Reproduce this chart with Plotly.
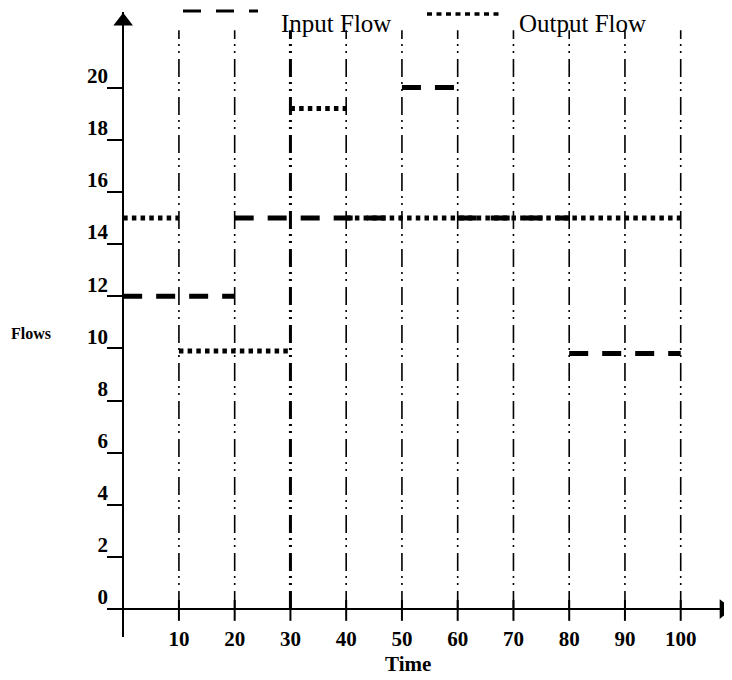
import plotly.graph_objects as go

# ---- data ----
time_ticks = [10, 20, 30, 40, 50, 60, 70, 80, 90, 100]
flow_ticks = [0, 2, 4, 6, 8, 10, 12, 14, 16, 18, 20]

input_start = [0, 20, 50, 60, 80]
input_end = [20, 50, 60, 80, 100]
input_value = [12, 15, 20, 15, 9.8]

output_start = [0, 10, 30, 40]
output_end = [10, 30, 40, 100]
output_value = [15, 9.9, 19.2, 15]

# ---- layout constants ----
X_RANGE = [-2.9, 109.2]
Y_RANGE = [-1.07, 22.9]
GRID_TOP = 22.2
THICK_GRID_AT = 30
SERIF = "Liberation Serif, Times New Roman, serif"
PAGE_OFFSET = 8  # default body margin of the html page


def segments(starts, ends, values):
    xs, ys = [], []
    for s, e, v in zip(starts, ends, values):
        xs += [s, e, None]
        ys += [v, v, None]
    return xs, ys


fig = go.Figure()

# vertical dash-dot-dot lines at every time tick
for t in time_ticks:
    fig.add_trace(go.Scatter(
        x=[t, t], y=[0, GRID_TOP], mode="lines", showlegend=False, hoverinfo="skip",
        line=dict(color="black", width=3 if t == THICK_GRID_AT else 1.6,
                  dash="18px,6px,2px,5px,2px,5px"),
    ))

# short solid tick marks crossing the time axis
tx, ty = [], []
for t in time_ticks:
    tx += [t, t, None]
    ty += [-0.45, 0.35, None]
fig.add_trace(go.Scatter(x=tx, y=ty, mode="lines", showlegend=False, hoverinfo="skip",
                         line=dict(color="black", width=2)))

ox, oy = segments(output_start, output_end, output_value)
fig.add_trace(go.Scatter(x=ox, y=oy, mode="lines", name="Output Flow", showlegend=False,
                         line=dict(color="black", width=5, dash="4.5px,4.2px")))

ix, iy = segments(input_start, input_end, input_value)
fig.add_trace(go.Scatter(x=ix, y=iy, mode="lines", name="Input Flow", showlegend=False,
                         line=dict(color="black", width=5, dash="19px,14px")))

# arrow heads on the axes
fig.add_trace(go.Scatter(x=[0], y=[Y_RANGE[1] - 0.35], mode="markers", showlegend=False,
                         hoverinfo="skip", cliponaxis=False,
                         marker=dict(symbol="triangle-up", size=17, color="black")))
fig.add_trace(go.Scatter(x=[X_RANGE[1] - 1.45], y=[0], mode="markers", showlegend=False,
                         hoverinfo="skip", cliponaxis=False,
                         marker=dict(symbol="triangle-right", size=17, color="black")))

fig.update_xaxes(
    range=X_RANGE, showgrid=False, showline=False, automargin=False,
    zeroline=True, zerolinecolor="black", zerolinewidth=2,
    tickmode="array", tickvals=time_ticks, ticktext=[str(t) for t in time_ticks],
    ticks="", ticklabelstandoff=-13,
    tickfont=dict(family=SERIF, size=21, color="black", weight="bold"),
)
fig.update_yaxes(
    range=Y_RANGE, showgrid=False, showline=False, automargin=False,
    zeroline=True, zerolinecolor="black", zerolinewidth=2,
    tickmode="array", tickvals=flow_ticks, ticktext=[str(v) for v in flow_ticks],
    ticks="inside", ticklen=16, tickwidth=2, tickcolor="black",
    ticklabelstandoff=-2, ticklabelshift=-12,
    tickfont=dict(family=SERIF, size=21, color="black", weight="bold"),
)

W, H = 732 - PAGE_OFFSET, 680 - PAGE_OFFSET
L, R, T, B = 107 - PAGE_OFFSET, 0, 12 - PAGE_OFFSET, 43
PW, PH = W - L - R, H - T - B


def px(xpage):
    return (xpage - PAGE_OFFSET - L) / PW


def py(ypage):
    return (H - B - (ypage - PAGE_OFFSET)) / PH


shapes = [
    dict(type="line", xref="paper", yref="paper", x0=px(183), x1=px(258), y0=py(11), y1=py(11),
         line=dict(color="black", width=3, dash="18px,15px")),
    dict(type="line", xref="paper", yref="paper", x0=px(427), x1=px(500), y0=py(14), y1=py(14),
         line=dict(color="black", width=3.5, dash="5px,4.5px")),
]

annotations = [
    dict(text="Input Flow", xref="paper", yref="paper", x=px(279), y=py(24),
         xanchor="left", yanchor="middle", showarrow=False,
         font=dict(family=SERIF, size=25, color="black")),
    dict(text="Output Flow", xref="paper", yref="paper", x=px(517), y=py(24),
         xanchor="left", yanchor="middle", showarrow=False,
         font=dict(family=SERIF, size=25, color="black")),
    dict(text="Flows", xref="paper", yref="paper", x=px(31), y=py(333),
         xanchor="center", yanchor="middle", showarrow=False,
         font=dict(family=SERIF, size=16, color="black", weight="bold")),
    dict(text="Time", xref="paper", yref="paper", x=px(408), y=py(664),
         xanchor="center", yanchor="middle", showarrow=False,
         font=dict(family=SERIF, size=21, color="black", weight="bold")),
]

fig.update_layout(
    width=W, height=H,
    margin=dict(l=L, r=R, t=T, b=B),
    paper_bgcolor="white", plot_bgcolor="white",
    showlegend=False,
    shapes=shapes, annotations=annotations,
)

fig.write_html("out.html")
